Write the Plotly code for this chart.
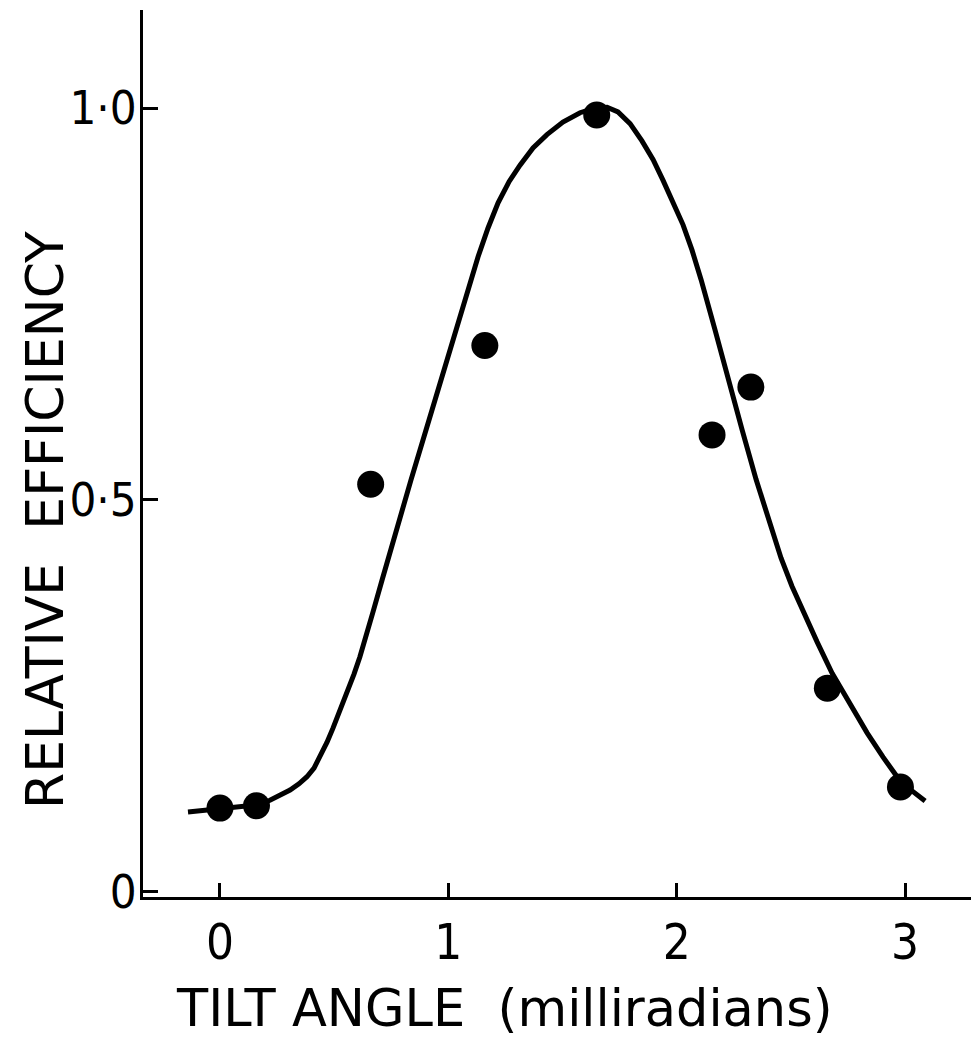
import plotly.graph_objects as go

# Measured points
tilt_pts = [0.0, 0.16, 0.66, 1.16, 1.65, 2.155, 2.325, 2.66, 2.98]
eff_pts = [0.107, 0.110, 0.520, 0.697, 0.991, 0.583, 0.644, 0.260, 0.134]

# Smooth fitted curve
curve_x = [-0.140, -0.009, 0.088, 0.162, 0.219, 0.267, 0.307, 0.346, 0.381, 0.412,
           0.438, 0.469, 0.495, 0.526, 0.556, 0.587, 0.613, 0.644, 0.670, 0.710,
           0.771, 0.837, 0.902, 0.968, 1.034, 1.082, 1.130, 1.174, 1.218, 1.266,
           1.314, 1.371, 1.432, 1.502, 1.577, 1.643, 1.695, 1.743, 1.796, 1.848,
           1.897, 1.940, 1.984, 2.028, 2.067, 2.107, 2.168, 2.225, 2.287, 2.348,
           2.405, 2.457, 2.505, 2.554, 2.615, 2.681, 2.755, 2.834, 2.904, 2.970,
           3.031, 3.088]
curve_y = [0.102, 0.106, 0.108, 0.111, 0.117, 0.124, 0.130, 0.138, 0.147, 0.158,
           0.172, 0.191, 0.209, 0.231, 0.254, 0.278, 0.300, 0.329, 0.357, 0.398,
           0.462, 0.526, 0.589, 0.653, 0.717, 0.764, 0.810, 0.847, 0.879, 0.906,
           0.927, 0.949, 0.966, 0.982, 0.994, 1.000, 1.001, 0.995, 0.980, 0.958,
           0.934, 0.908, 0.880, 0.851, 0.819, 0.781, 0.717, 0.653, 0.589, 0.526,
           0.472, 0.426, 0.390, 0.357, 0.319, 0.279, 0.241, 0.203, 0.172, 0.145,
           0.129, 0.116]

x_ticks = [0, 1, 2, 3]
x_tick_text = ["0", "1", "2", "3"]
y_ticks = [0, 0.5, 1.0]
y_tick_text = ["0", "0·5", "1·0"]

TICK_FONT = "DejaVu Sans Condensed, sans-serif"
TITLE_FONT = "DejaVu Sans, sans-serif"

fig = go.Figure()
fig.add_trace(go.Scatter(x=curve_x, y=curve_y, mode="lines",
                         line=dict(color="black", width=5, shape="linear"),
                         showlegend=False, hoverinfo="skip"))
fig.add_trace(go.Scatter(x=tilt_pts, y=eff_pts, mode="markers",
                         marker=dict(color="black", size=27),
                         showlegend=False))

fig.update_layout(
    width=971, height=1039,
    margin=dict(l=143, r=0, t=10, b=142),
    paper_bgcolor="white", plot_bgcolor="white",
    font=dict(family=TICK_FONT, color="black", size=48),
    xaxis=dict(range=[-0.337, 3.289], showgrid=False, zeroline=False,
               showline=True, linecolor="black", linewidth=3,
               ticks="inside", ticklen=14, tickwidth=3, tickcolor="black",
               tickvals=x_ticks, ticktext=x_tick_text,
               tickfont=dict(size=49, family=TICK_FONT), ticklabelstandoff=0),
    yaxis=dict(range=[-0.0064, 1.125], showgrid=False, zeroline=False,
               showline=True, linecolor="black", linewidth=3,
               ticks="inside", ticklen=15, tickwidth=3, tickcolor="black",
               tickvals=y_ticks, ticktext=y_tick_text,
               tickfont=dict(size=47, family=TICK_FONT), ticklabelstandoff=-6),
    annotations=[
        dict(text="TILT ANGLE\u00a0\u00a0(milliradians)", xref="paper", yref="paper",
             x=(504 - 143) / 828, y=-(1008 - 897) / 887, xanchor="center", yanchor="middle",
             showarrow=False, font=dict(size=51, family=TITLE_FONT)),
        dict(text="RELATIVE\u00a0\u00a0EFFICIENCY", xref="paper", yref="paper",
             x=-(143 - 45) / 828, y=(897 - 520) / 887, xanchor="center", yanchor="middle",
             textangle=-90, showarrow=False, font=dict(size=52, family=TITLE_FONT)),
    ],
)

fig.write_html("out.html")
